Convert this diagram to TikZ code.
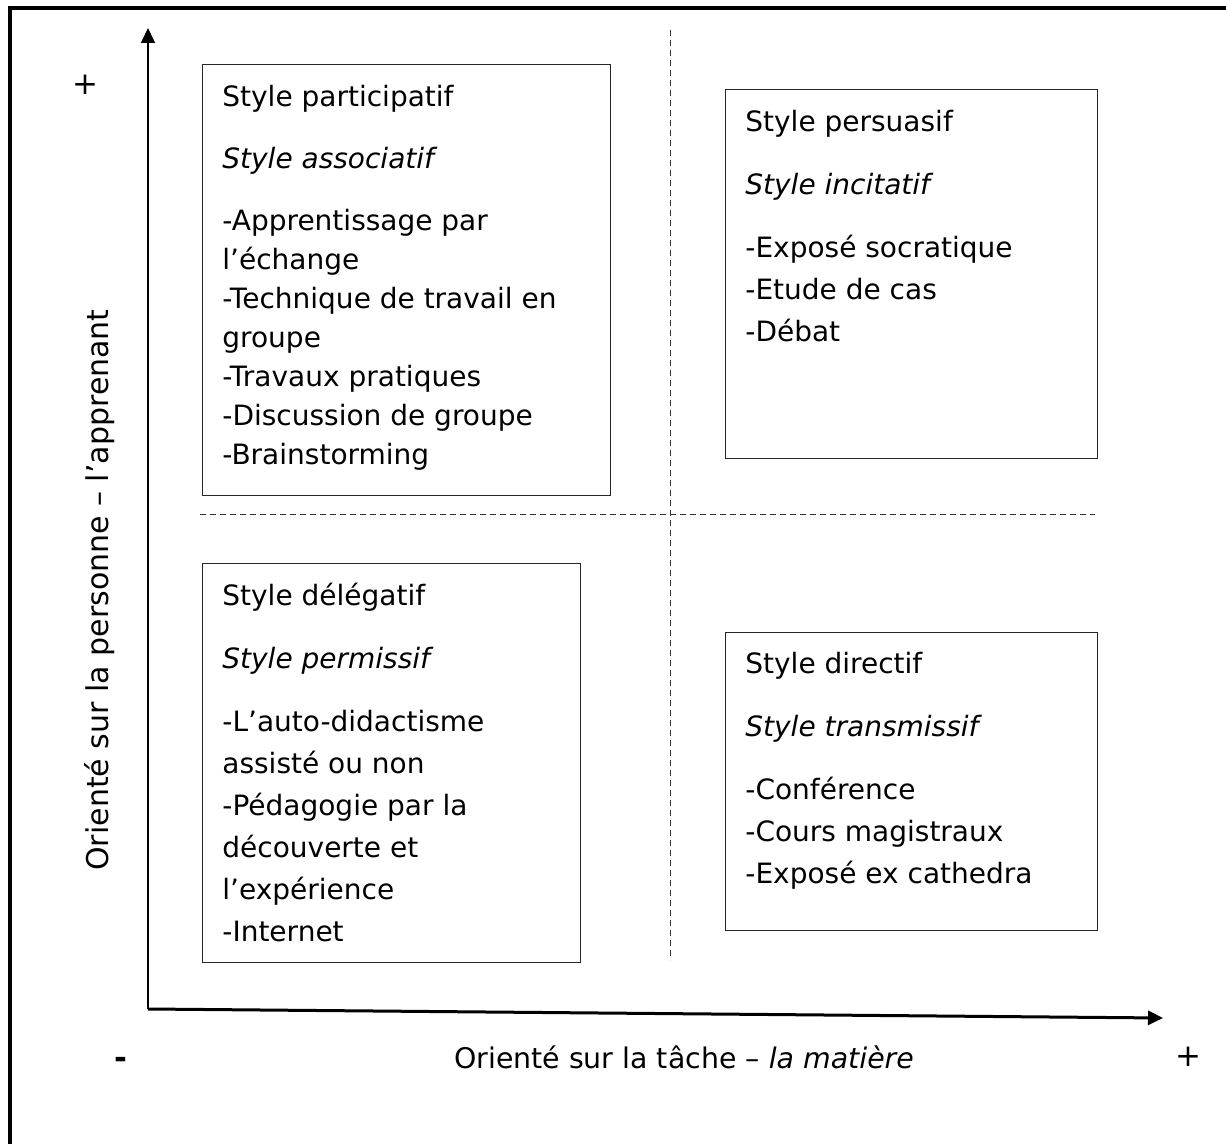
\documentclass[tikz,border=0pt]{standalone}
\usepackage{fontspec}
\setmainfont{DejaVu Sans}
\usetikzlibrary{arrows.meta,positioning}

\begin{document}
\begin{tikzpicture}[x=0.5pt,y=-0.5pt,>={Triangle[length=7.5pt,width=7pt]},
  box/.style={draw=black!85,line width=0.5pt,anchor=north west,inner sep=0pt,outer sep=0pt},
  txt/.style={anchor=north west,inner sep=0pt,align=left,font=\fontsize{14}{21}\selectfont},
  lbl/.style={inner sep=0pt,font=\fontsize{14.2}{21}\selectfont},
  quadline/.style={draw=black!80,line width=0.5pt,dash pattern=on 3pt off 2pt}]
 \useasboundingbox (0,0) rectangle (1226,1144);
 \draw[line width=2pt] (9.5,1144) -- (9.5,8.5) -- (1226,8.5);
 % axes
 \coordinate (o) at (148,1009);
 \coordinate (ytip) at (148,28);
 \coordinate (xtip) at (1163,1018);
 \draw[->,line width=0.8pt] (o) -- (ytip);
 \draw[->,line width=1.5pt] (o) -- (xtip);
 % quadrants
 \coordinate (vtop) at (670,30);
 \coordinate (vbot) at (670,960);
 \coordinate (hleft) at (200,514);
 \coordinate (hright) at (1095,514);
 \draw[quadline] (vtop) -- (vbot);
 \draw[quadline] (hleft) -- (hright);
 % boxes
 \node[box,minimum width=204pt,minimum height=215pt] (b1) at (202,65) {};
 \node[box,minimum width=186pt,minimum height=184.5pt] (b2) at (725,90) {};
 \node[box,minimum width=189pt,minimum height=199.5pt] (b3) at (202,563) {};
 \node[box,minimum width=186pt,minimum height=149pt] (b4) at (725,632) {};
 \node[txt,font=\fontsize{14}{19.5}\selectfont,below right=10pt and 10pt of b1.north west] (t1)
   {Style participatif\\[11.5pt]\textit{Style associatif}\\[11.5pt]-Apprentissage par\\l’échange\\-Technique de travail en\\groupe\\-Travaux pratiques\\-Discussion de groupe\\-Brainstorming};
 \node[txt,below right=10pt and 10pt of b2.north west] (t2)
   {Style persuasif\\[10.5pt]\textit{Style incitatif}\\[10.5pt]-Exposé socratique\\-Etude de cas\\-Débat};
 \node[txt,below right=10pt and 10pt of b3.north west] (t3)
   {Style délégatif\\[10.5pt]\textit{Style permissif}\\[10.5pt]-L’auto-didactisme\\assisté ou non\\-Pédagogie par la\\découverte et\\l’expérience\\-Internet};
 \node[txt,below right=10pt and 10pt of b4.north west] (t4)
   {Style directif\\[10.5pt]\textit{Style transmissif}\\[10.5pt]-Conférence\\-Cours magistraux\\-Exposé ex cathedra};
 % axis labels
 \node[lbl,font=\fontsize{15.5}{21}\selectfont] (yplus) at (85,85) {+};
 \node[lbl,font=\fontsize{15.5}{21}\selectfont\bfseries] (xminus) at (121,1063) {-};
 \node[lbl,font=\fontsize{15.5}{21}\selectfont] (xplus) at (1188,1057) {+};
 \node[lbl] (xlabel) at (684,1057) {Orienté sur la tâche – \textit{la matière}};
 \node[lbl,font=\fontsize{15}{21}\selectfont,rotate=90] (ylabel) at (100,590) {Orienté sur la personne – l’apprenant};
\end{tikzpicture}
\end{document}
